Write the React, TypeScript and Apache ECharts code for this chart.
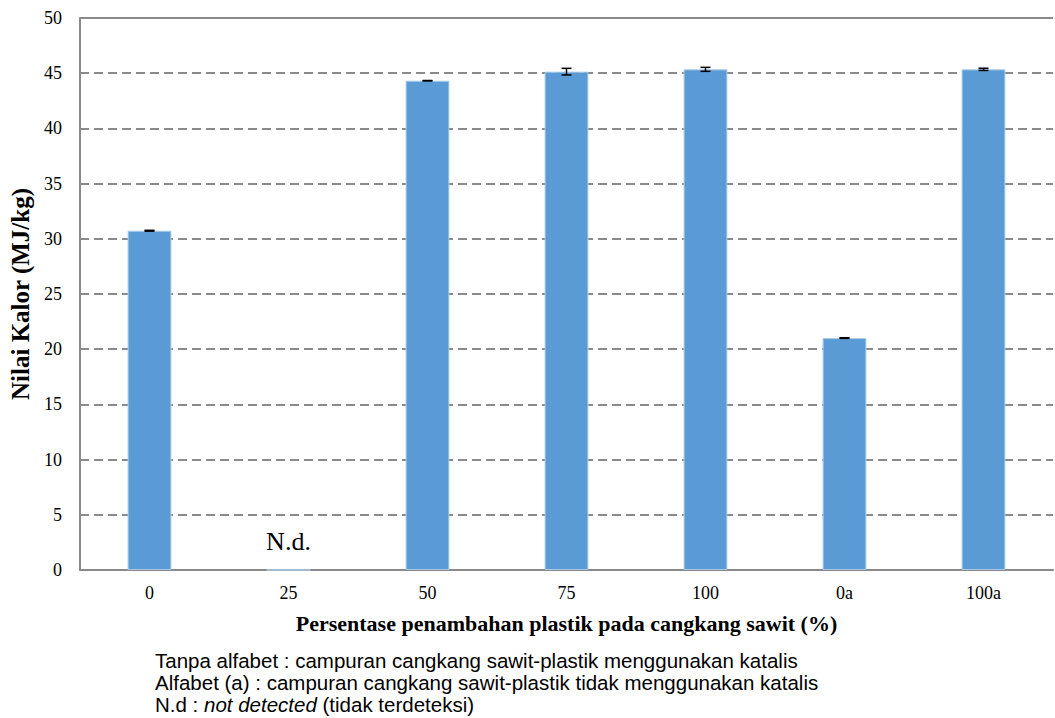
import React, { useEffect, useRef } from "react";
import * as echarts from "echarts";

const categories = ["0", "25", "50", "75", "100", "0a", "100a"];
const values: (number | null)[] = [30.73, 0, 44.32, 45.14, 45.35, 21.01, 45.35];
const errors = [0.04, 0, 0.02, 0.3, 0.18, 0.03, 0.1];
const notDetectedLabel = "N.d.";
const yTicks = { min: 0, max: 50, interval: 5 };
const footnotes = [
  "Tanpa alfabet : campuran cangkang sawit-plastik menggunakan katalis",
  "Alfabet (a) : campuran cangkang sawit-plastik tidak menggunakan katalis",
];

export default function App() {
  const ref = useRef<HTMLDivElement>(null);
  useEffect(() => {
    if (!ref.current) return;
    const chart = echarts.init(ref.current, null, { renderer: "svg" });
    const serif = "'Liberation Serif', 'Times New Roman', serif";
    const sans = "'Liberation Sans', Arial, sans-serif";
    const barData = values.map((v, i) =>
      categories[i] === "25"
        ? {
            value: 0,
            label: {
              show: true,
              formatter: notDetectedLabel,
              position: "top",
              distance: 15,
              fontSize: 26,
              fontFamily: serif,
              color: "#000",
            },
          }
        : v
    );
    const errData = values.map((v, i) => [i, v ?? 0, errors[i]]);
    chart.setOption({
      animation: false,
      backgroundColor: "#fff",
      grid: { left: 80, right: 2, top: 18, bottom: 148 },
      xAxis: {
        type: "category",
        data: categories,
        axisLine: { lineStyle: { color: "#8a8a8a", width: 2 } },
        axisTick: { show: false },
        axisLabel: { fontFamily: serif, fontSize: 18, color: "#000", margin: 14 },
        name: "Persentase penambahan plastik pada cangkang sawit (%)",
        nameLocation: "middle",
        nameGap: 42,
        nameTextStyle: { fontFamily: serif, fontSize: 22, fontWeight: "bold", color: "#000" },
      },
      yAxis: {
        type: "value",
        min: yTicks.min,
        max: yTicks.max,
        interval: yTicks.interval,
        axisLine: { show: true, lineStyle: { color: "#8a8a8a", width: 2 } },
        axisTick: { show: false },
        axisLabel: { fontFamily: serif, fontSize: 18, color: "#000", margin: 18 },
        splitLine: { show: true, lineStyle: { color: "#8a8a8a", width: 2, type: [9, 5] } },
        name: "Nilai Kalor (MJ/kg)",
        nameLocation: "middle",
        nameGap: 45,
        nameRotate: 90,
        nameTextStyle: { fontFamily: serif, fontSize: 25, fontWeight: "bold", color: "#000" },
      },
      series: [
        {
          type: "bar",
          data: barData,
          barWidth: "31.5%",
          itemStyle: { color: "#5B9BD5", borderColor: "#a9cbea", borderWidth: 1 },
          markLine: {
            symbol: "none",
            silent: true,
            label: { show: false },
            lineStyle: { color: "#8a8a8a", width: 2, type: "solid" },
            data: [{ yAxis: yTicks.max }],
          },
        },
        {
          type: "custom",
          data: errData,
          z: 10,
          renderItem: (params: any, api: any) => {
            const idx = api.value(0);
            const v = api.value(1);
            const e = api.value(2);
            if (!v || !e) return null;
            const top = api.coord([idx, v + e]);
            const bot = api.coord([idx, v - e]);
            const hw = 5;
            const style = { stroke: "#000", lineWidth: 1.5 };
            return {
              type: "group",
              children: [
                { type: "line", shape: { x1: top[0], y1: top[1], x2: bot[0], y2: bot[1] }, style },
                { type: "line", shape: { x1: top[0] - hw, y1: top[1], x2: top[0] + hw, y2: top[1] }, style },
                { type: "line", shape: { x1: bot[0] - hw, y1: bot[1], x2: bot[0] + hw, y2: bot[1] }, style },
              ],
            };
          },
        },
      ],
      graphic: [
        {
          type: "text",
          left: 155,
          top: 650,
          style: { text: footnotes[0], font: `20.5px ${sans}`, fill: "#000" },
        },
        {
          type: "text",
          left: 155,
          top: 672,
          style: { text: footnotes[1], font: `20.5px ${sans}`, fill: "#000" },
        },
        {
          type: "text",
          left: 155,
          top: 694,
          style: {
            text: "{n|N.d : }{i|not detected}{n| (tidak terdeteksi)}",
            rich: {
              n: { fontFamily: sans, fontSize: 20.5, fill: "#000" },
              i: { fontFamily: sans, fontSize: 20.5, fontStyle: "italic", fill: "#000" },
            },
          },
        },
      ],
    });
    return () => chart.dispose();
  }, []);
  return (
    <div
      ref={ref}
      style={{ position: "absolute", left: 0, top: 0, width: 1055, height: 718 }}
    />
  );
}
